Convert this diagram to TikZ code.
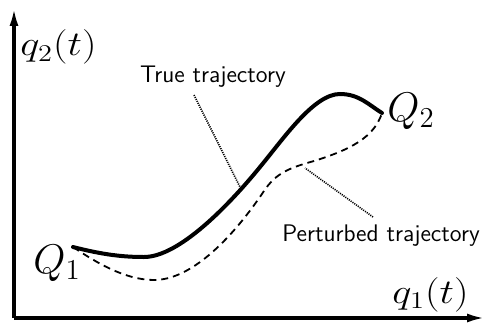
\documentclass[tikz,border=0pt]{standalone}
\usepackage{tikz}
\usetikzlibrary{arrows.meta,positioning}
\tikzset{
  axis/.style={line width=1.6pt,-{Latex[length=9pt,width=4.5pt]}},
  truepath/.style={line width=2pt,line cap=round},
  pertpath/.style={line width=0.9pt,dash pattern=on 3.5pt off 2.5pt},
  pointer/.style={line width=0.8pt,dash pattern=on 0.55pt off 0.55pt},
  caption/.style={font=\sffamily\large,inner sep=0pt},
  varlbl/.style={font=\LARGE,inner sep=0pt,xscale=1.18,transform shape},
  endlbl/.style={font=\huge,inner sep=0pt}
}

\begin{document}
\begin{tikzpicture}[x=0.5pt,y=0.5pt]
  \useasboundingbox (-14,-4) rectangle (472,318);
  % axes
  \coordinate (o) at (0,0);
  \coordinate (xend) at (471,0);
  \coordinate (yend) at (0,310);
  \draw[axis] (o) -- (xend);
  \draw[axis] (o) -- (yend);
  \node[varlbl,anchor=base west] (qtwo) at (6,262) {$q_2(t)$};
  \node[varlbl,anchor=base west] (qone) at (378,15) {$q_1(t)$};
  % end points
  \coordinate (start) at (59,71);
  \coordinate (goal) at (368,205);
  \node[endlbl,anchor=base west] (qstart) at (19,45) {$Q_1$};
  \node[endlbl,anchor=base west] (qgoal) at (373,197) {$Q_2$};
  % trajectories
  \draw[truepath] (start) .. controls (90,63) and (110,61) .. (130,61)
    .. controls (165,61) and (215,113) .. (246,151)
    .. controls (270,180) and (300,224) .. (326,224)
    .. controls (345,224) and (355,213) .. (goal);
  \draw[pertpath] (start) .. controls (80,57) and (110,38) .. (140,38)
    .. controls (175,38) and (215,75) .. (250,127)
    .. controls (262,145) and (275,150) .. (300,157)
    .. controls (335,168) and (360,180) .. (goal);
  % labels
  \node[caption,anchor=base] (truelbl) at (199,235) {True trajectory};
  \node[caption,anchor=base] (pertlbl) at (367,77) {Perturbed trajectory};
  \coordinate (ontrue) at (226,131);
  \coordinate (truefoot) at (180,223);
  \coordinate (onpert) at (291,150);
  \coordinate (pertfoot) at (359,101);
  \draw[pointer] (truefoot) -- (ontrue);
  \draw[pointer] (pertfoot) -- (onpert);
\end{tikzpicture}
\end{document}
